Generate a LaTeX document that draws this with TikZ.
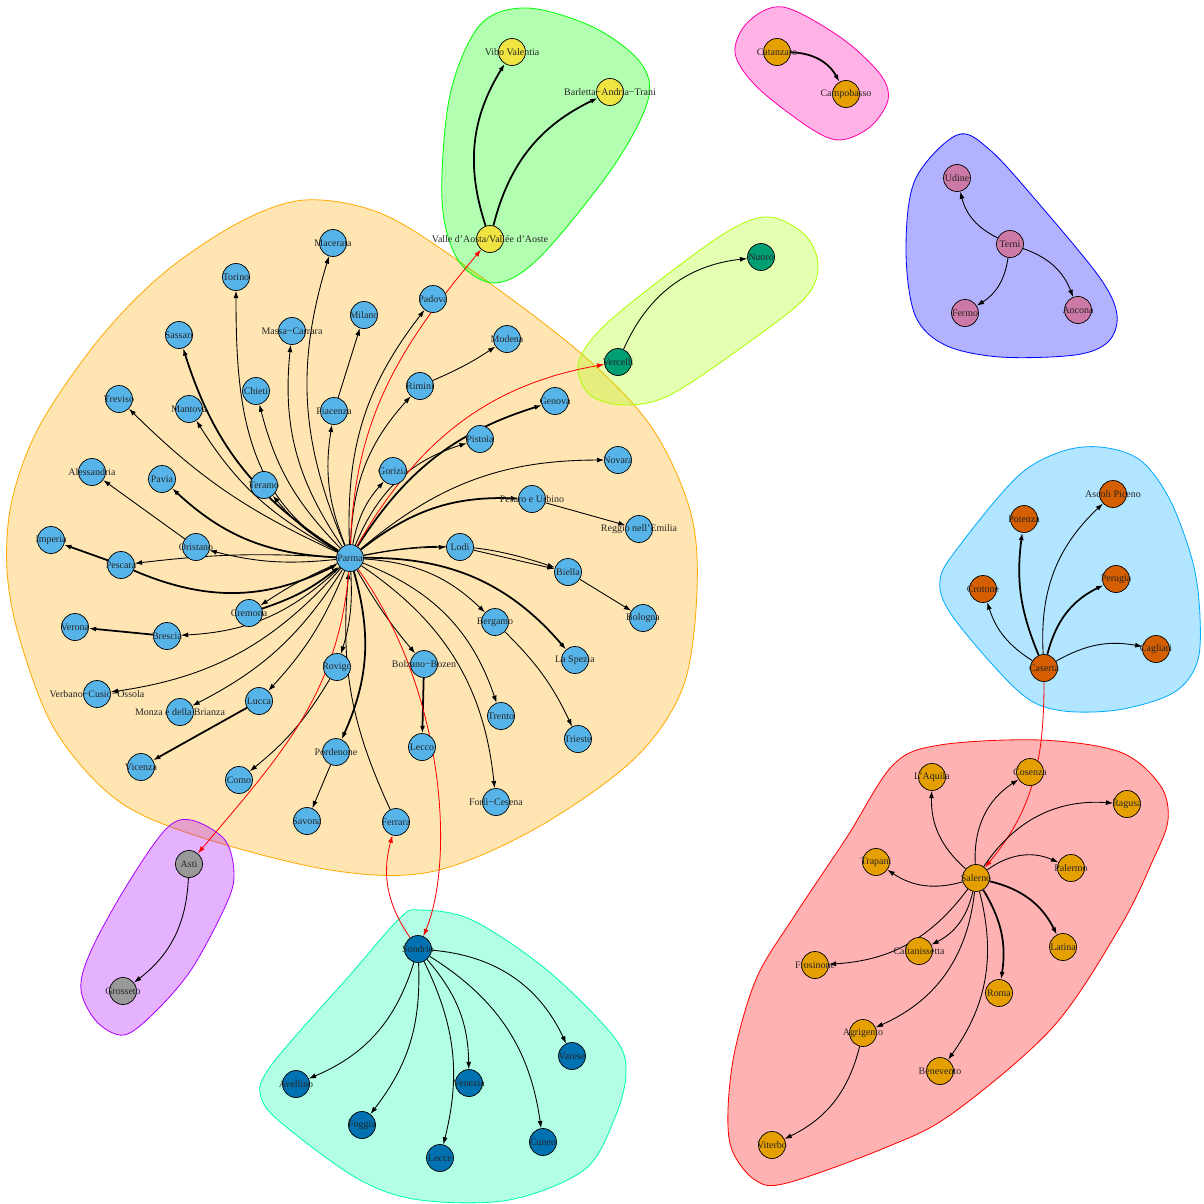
\documentclass[tikz,border=0pt]{standalone}
\usepackage{fontspec}
\setmainfont{Liberation Serif}
\usetikzlibrary{arrows.meta}
\definecolor{vSky}{HTML}{56B4E9}
\definecolor{vYellow}{HTML}{F0E442}
\definecolor{vOrange}{HTML}{E69F00}
\definecolor{vGreen}{HTML}{009E73}
\definecolor{vPink}{HTML}{CC79A7}
\definecolor{vRed}{HTML}{D55E00}
\definecolor{vBlue}{HTML}{0072B2}
\definecolor{vGray}{HTML}{999999}
\definecolor{hRed}{HTML}{FF0000}
\definecolor{hOrange}{HTML}{FFAA00}
\definecolor{hLime}{HTML}{AAFF00}
\definecolor{hGreen}{HTML}{00FF00}
\definecolor{hAqua}{HTML}{00FFAA}
\definecolor{hSky}{HTML}{00AAFF}
\definecolor{hBlue}{HTML}{0000FF}
\definecolor{hPurple}{HTML}{AA00FF}
\definecolor{hPink}{HTML}{FF00AA}
\pgfdeclarelayer{hulls}
\pgfdeclarelayer{front}
\pgfsetlayers{hulls,main,front}

\begin{document}
\begin{tikzpicture}[x=0.03cm,y=-0.03cm,
  city/.style={circle,draw=black,line width=0.6pt,minimum size=0.81cm,inner sep=0pt,
    label={[font=\fontsize{8.5}{10}\selectfont,text=black!85]center:{#1}}},
  link/.style={-{Latex[length=2.2mm,width=1.5mm]},line width=0.75pt},
  heavy/.style={link,line width=1.5pt},
  redlink/.style={link,red,line width=0.7pt},
  hull/.style={line width=0.7pt,fill opacity=0.3}]
  \useasboundingbox (0,0) rectangle (1204,1203);

  % group hulls
  \begin{pgfonlayer}{hulls}
  \draw[hull,draw=hOrange,fill=hOrange] plot[smooth cycle,tension=0.55] coordinates {
    (305,200) (380,213) (460,262) (577,350) (650,425) (690,510) (697,590) (683,687)
    (633,760) (533,830) (430,872) (330,870) (200,837) (117,800) (55,730) (20,640)
    (7,570) (12,500) (40,425) (100,338) (165,272) (240,222)};
  \draw[hull,draw=hGreen,fill=hGreen] plot[smooth cycle,tension=0.55] coordinates {
    (527,8) (593,27) (640,62) (648,100) (613,167) (540,257) (495,283) (458,260)
    (442,200) (450,95) (480,25)};
  \draw[hull,draw=hPink,fill=hPink] plot[smooth cycle,tension=0.55] coordinates {
    (783,7) (840,37) (880,74) (888,100) (870,127) (840,140) (810,128) (757,87)
    (735,53) (748,22)};
  \draw[hull,draw=hBlue,fill=hBlue] plot[smooth cycle,tension=0.55] coordinates {
    (957,135) (990,150) (1040,205) (1100,278) (1117,315) (1108,342) (1075,355)
    (1000,357) (945,345) (915,315) (906,250) (915,180)};
  \draw[hull,draw=hLime,fill=hLime] plot[smooth cycle,tension=0.55] coordinates {
    (578,365) (600,330) (660,280) (730,230) (770,217) (805,235) (818,265)
    (805,298) (745,345) (670,395) (625,405) (590,395)};
  \draw[hull,draw=hSky,fill=hSky] plot[smooth cycle,tension=0.55] coordinates {
    (1100,447) (1140,460) (1170,500) (1193,563) (1200,617) (1197,663) (1173,693)
    (1117,710) (1057,710) (1017,690) (953,617) (940,580) (960,545) (1017,477)
    (1060,452)};
  \draw[hull,draw=hRed,fill=hRed] plot[smooth cycle,tension=0.55] coordinates {
    (940,745) (1040,740) (1120,752) (1160,785) (1168,820) (1153,860) (1120,927)
    (1053,1027) (953,1113) (887,1147) (787,1183) (755,1180) (732,1150) (728,1110)
    (735,1050) (757,977) (795,915) (847,837) (893,765)};
  \draw[hull,draw=hPurple,fill=hPurple] plot[smooth cycle,tension=0.55] coordinates {
    (191,820) (225,840) (234,875) (225,907) (191,970) (154,1013) (124,1035)
    (97,1022) (81,990) (90,953) (124,890) (165,830)};
  \draw[hull,draw=hAqua,fill=hAqua] plot[smooth cycle,tension=0.55] coordinates {
    (420,910) (472,920) (547,970) (614,1037) (626,1073) (614,1120) (584,1170)
    (509,1200) (420,1200) (360,1180) (290,1130) (262,1100) (270,1067) (350,975)
    (400,918)};
  \end{pgfonlayer}

  % cities
  \begin{pgfonlayer}{front}
  \node[city=Parma,fill=vSky] (parma) at (350,558) {};
  \node[city=Macerata,fill=vSky] (macerata) at (333,243) {};
  \node[city=Torino,fill=vSky] (torino) at (236,277) {};
  \node[city=Milano,fill=vSky] (milano) at (364,315) {};
  \node[city=Massa−Carrara,fill=vSky] (massa) at (292,331) {};
  \node[city=Sassari,fill=vSky] (sassari) at (179,335) {};
  \node[city=Padova,fill=vSky] (padova) at (433,299) {};
  \node[city=Modena,fill=vSky] (modena) at (507,339) {};
  \node[city=Treviso,fill=vSky] (treviso) at (119,399) {};
  \node[city=Mantova,fill=vSky] (mantova) at (189,409) {};
  \node[city=Chieti,fill=vSky] (chieti) at (256,391) {};
  \node[city=Piacenza,fill=vSky] (piacenza) at (334,411) {};
  \node[city=Rimini,fill=vSky] (rimini) at (420,386) {};
  \node[city=Genova,fill=vSky] (genova) at (555,401) {};
  \node[city=Pistoia,fill=vSky] (pistoia) at (480,439) {};
  \node[city=Gorizia,fill=vSky] (gorizia) at (393,471) {};
  \node[city=Novara,fill=vSky] (novara) at (618,460) {};
  \node[city=Alessandria,fill=vSky] (alessandria) at (92,472) {};
  \node[city=Pavia,fill=vSky] (pavia) at (162,479) {};
  \node[city=Teramo,fill=vSky] (teramo) at (264,485) {};
  \node[city=Pesaro e Urbino,fill=vSky] (pesaro) at (532,499) {};
  \node[city=Reggio nell'Emilia,fill=vSky] (reggio) at (639,529) {};
  \node[city=Imperia,fill=vSky] (imperia) at (51,540) {};
  \node[city=Oristano,fill=vSky] (oristano) at (196,547) {};
  \node[city=Lodi,fill=vSky] (lodi) at (460,547) {};
  \node[city=Pescara,fill=vSky] (pescara) at (121,565) {};
  \node[city=Biella,fill=vSky] (biella) at (568,572) {};
  \node[city=Cremona,fill=vSky] (cremona) at (249,613) {};
  \node[city=Verona,fill=vSky] (verona) at (75,627) {};
  \node[city=Brescia,fill=vSky] (brescia) at (167,636) {};
  \node[city=Bologna,fill=vSky] (bologna) at (643,618) {};
  \node[city=Bergamo,fill=vSky] (bergamo) at (495,622) {};
  \node[city=Rovigo,fill=vSky] (rovigo) at (337,667) {};
  \node[city=Bolzano−Bozen,fill=vSky] (bolzano) at (424,664) {};
  \node[city=La Spezia,fill=vSky] (laspezia) at (575,660) {};
  \node[city=Verbano−Cusio−Ossola,fill=vSky] (verbano) at (97,694) {};
  \node[city=Monza e della Brianza,fill=vSky] (monza) at (180,712) {};
  \node[city=Lucca,fill=vSky] (lucca) at (259,701) {};
  \node[city=Trento,fill=vSky] (trento) at (501,716) {};
  \node[city=Trieste,fill=vSky] (trieste) at (578,739) {};
  \node[city=Lecco,fill=vSky] (lecco) at (422,747) {};
  \node[city=Pordenone,fill=vSky] (pordenone) at (336,752) {};
  \node[city=Vicenza,fill=vSky] (vicenza) at (141,767) {};
  \node[city=Como,fill=vSky] (como) at (239,780) {};
  \node[city=Savona,fill=vSky] (savona) at (307,821) {};
  \node[city=Ferrara,fill=vSky] (ferrara) at (396,822) {};
  \node[city=Forlì−Cesena,fill=vSky] (forli) at (496,802) {};

  \node[city=Valle d'Aosta/Vallée d'Aoste,fill=vYellow] (valle) at (490,239) {};
  \node[city=Vibo Valentia,fill=vYellow] (vibo) at (512,52) {};
  \node[city=Barletta−Andria−Trani,fill=vYellow] (barletta) at (610,92) {};

  \node[city=Catanzaro,fill=vOrange] (catanzaro) at (777,52) {};
  \node[city=Campobasso,fill=vOrange] (campobasso) at (846,94) {};

  \node[city=Vercelli,fill=vGreen] (vercelli) at (618,362) {};
  \node[city=Nuoro,fill=vGreen] (nuoro) at (761,257) {};

  \node[city=Terni,fill=vPink] (terni) at (1010,244) {};
  \node[city=Udine,fill=vPink] (udine) at (957,178) {};
  \node[city=Fermo,fill=vPink] (fermo) at (965,313) {};
  \node[city=Ancona,fill=vPink] (ancona) at (1078,310) {};

  \node[city=Caserta,fill=vRed] (caserta) at (1044,668) {};
  \node[city=Potenza,fill=vRed] (potenza) at (1024,519) {};
  \node[city=Ascoli Piceno,fill=vRed] (ascoli) at (1113,494) {};
  \node[city=Crotone,fill=vRed] (crotone) at (983,589) {};
  \node[city=Perugia,fill=vRed] (perugia) at (1116,579) {};
  \node[city=Cagliari,fill=vRed] (cagliari) at (1156,649) {};

  \node[city=Salerno,fill=vOrange] (salerno) at (976,878) {};
  \node[city=L'Aquila,fill=vOrange] (laquila) at (932,777) {};
  \node[city=Cosenza,fill=vOrange] (cosenza) at (1030,772) {};
  \node[city=Ragusa,fill=vOrange] (ragusa) at (1127,804) {};
  \node[city=Trapani,fill=vOrange] (trapani) at (876,862) {};
  \node[city=Palermo,fill=vOrange] (palermo) at (1071,868) {};
  \node[city=Caltanissetta,fill=vOrange] (caltanissetta) at (919,951) {};
  \node[city=Latina,fill=vOrange] (latina) at (1063,947) {};
  \node[city=Frosinone,fill=vOrange] (frosinone) at (815,965) {};
  \node[city=Roma,fill=vOrange] (roma) at (999,993) {};
  \node[city=Agrigento,fill=vOrange] (agrigento) at (863,1033) {};
  \node[city=Benevento,fill=vOrange] (benevento) at (940,1071) {};
  \node[city=Viterbo,fill=vOrange] (viterbo) at (772,1145) {};

  \node[city=Asti,fill=vGray] (asti) at (189,864) {};
  \node[city=Grosseto,fill=vGray] (grosseto) at (123,991) {};

  \node[city=Sondrio,fill=vBlue] (sondrio) at (418,949) {};
  \node[city=Avellino,fill=vBlue] (avellino) at (296,1084) {};
  \node[city=Foggia,fill=vBlue] (foggia) at (362,1125) {};
  \node[city=Lecce,fill=vBlue] (lecce) at (440,1158) {};
  \node[city=Venezia,fill=vBlue] (venezia) at (469,1083) {};
  \node[city=Cuneo,fill=vBlue] (cuneo) at (543,1142) {};
  \node[city=Varese,fill=vBlue] (varese) at (572,1056) {};
  \end{pgfonlayer}

  % Parma group
  \draw[link] (parma) to[bend left=20] (macerata);
  \draw[link] (parma) to[out=150,in=-90] (torino);
  \draw[heavy] (parma) to[bend left=20] (sassari);
  \draw[link] (parma) to[bend left=20] (massa);
  \draw[link] (parma) to[bend left=15] (chieti);
  \draw[link] (parma) to[bend left=15] (mantova);
  \draw[link] (parma) to[bend left=10] (teramo);
  \draw[heavy] (parma) to[bend left=20] (pavia);
  \draw[link] (parma) to[bend left=10] (treviso);
  \draw[link] (parma) to[bend left=10] (oristano);
  \draw[link] (parma) to[bend right=5] (pescara);
  \draw[heavy] (pescara) to[bend right=25] (parma);
  \draw[link] (parma) to[bend right=5] (cremona);
  \draw[heavy] (cremona) to[bend right=10] (parma);
  \draw[link] (parma) to[bend left=20] (brescia);
  \draw[heavy] (brescia) -- (verona);
  \draw[heavy] (pescara) -- (imperia);
  \draw[link] (oristano) -- (alessandria);
  \draw[link] (parma) to[bend left=20] (verbano);
  \draw[link] (parma) to[bend left=15] (monza);
  \draw[link] (parma) to[bend left=10] (lucca);
  \draw[heavy] (lucca) -- (vicenza);
  \draw[link] (parma) to[bend left=10] (rovigo);
  \draw[link] (rovigo) to[bend left=10] (como);
  \draw[heavy] (parma) to[bend left=20] (pordenone);
  \draw[link] (pordenone) -- (savona);
  \draw[link] (ferrara) to[bend left=15] (parma);
  \draw[link] (parma) to[bend right=5] (bolzano);
  \draw[heavy] (bolzano) -- (lecco);
  \draw[link] (parma) to[bend left=5] (lodi);
  \draw[link] (parma) to[bend left=15] (biella);
  \draw[link] (lodi) -- (biella);
  \draw[link] (biella) -- (bologna);
  \draw[heavy] (parma) to[bend left=20] (pesaro);
  \draw[link] (pesaro) -- (reggio);
  \draw[link] (parma) to[bend left=20] (novara);
  \draw[heavy] (parma) to[bend left=20] (genova);
  \draw[link] (parma) to[bend left=25] (pistoia);
  \draw[link] (parma) to[bend left=15] (gorizia);
  \draw[link] (parma) to[bend left=20] (rimini);
  \draw[link] (rimini) to[bend right=5] (modena);
  \draw[link] (parma) to[bend left=20] (padova);
  \draw[link] (parma) to[bend left=15] (piacenza);
  \draw[link] (piacenza) -- (milano);
  \draw[link] (parma) to[bend left=20] (bergamo);
  \draw[link] (bergamo) to[bend left=10] (trieste);
  \draw[heavy] (parma) to[bend left=25] (laspezia);
  \draw[link] (parma) to[bend left=25] (trento);
  \draw[link] (parma) to[bend left=25] (forli);

  % links between groups
  \draw[redlink] (parma) to[out=88,in=-130] (valle);
  \draw[redlink] (parma) to[out=60,in=190] (vercelli);
  \draw[redlink] (parma) to[out=-95,in=50] (asti);
  \draw[redlink] (parma) .. controls (445,690) and (455,860) .. (sondrio);
  \draw[redlink] (sondrio) to[bend left=25] (ferrara);
  \draw[redlink] (caserta) to[out=-90,in=50] (salerno);

  % small groups
  \draw[heavy] (valle) to[bend left=25] (vibo);
  \draw[heavy] (valle) to[bend left=25] (barletta);
  \draw[heavy] (catanzaro) to[bend left=30] (campobasso);
  \draw[link] (vercelli) to[bend left=30] (nuoro);
  \draw[link] (terni) to[bend left=25] (udine);
  \draw[link] (terni) to[bend left=25] (fermo);
  \draw[link] (terni) to[bend left=25] (ancona);
  \draw[link] (asti) to[bend left=25] (grosseto);

  % Caserta group
  \draw[link] (caserta) to[bend left=20] (crotone);
  \draw[heavy] (caserta) to[bend left=15] (potenza);
  \draw[link] (caserta) to[bend left=25] (ascoli);
  \draw[heavy] (caserta) to[bend left=25] (perugia);
  \draw[link] (caserta) to[bend left=20] (cagliari);

  % Salerno group
  \draw[link] (salerno) to[bend left=25] (laquila);
  \draw[link] (salerno) to[bend left=30] (cosenza);
  \draw[link] (salerno) to[bend left=30] (ragusa);
  \draw[link] (salerno) to[bend left=25] (trapani);
  \draw[link] (salerno) to[bend left=30] (palermo);
  \draw[heavy] (salerno) to[bend left=25] (latina);
  \draw[heavy] (salerno) to[bend left=20] (roma);
  \draw[link] (salerno) to[bend left=25] (benevento);
  \draw[link] (salerno) to[bend left=30] (agrigento);
  \draw[link] (salerno) to[bend left=25] (caltanissetta);
  \draw[link] (salerno) to[bend left=25] (frosinone);
  \draw[link] (agrigento) to[bend left=25] (viterbo);

  % Sondrio group
  \draw[link] (sondrio) to[bend left=25] (avellino);
  \draw[link] (sondrio) to[bend left=20] (foggia);
  \draw[link] (sondrio) to[bend left=20] (lecce);
  \draw[link] (sondrio) to[bend left=20] (venezia);
  \draw[link] (sondrio) to[bend left=25] (cuneo);
  \draw[link] (sondrio) to[bend left=30] (varese);
\end{tikzpicture}
\end{document}
